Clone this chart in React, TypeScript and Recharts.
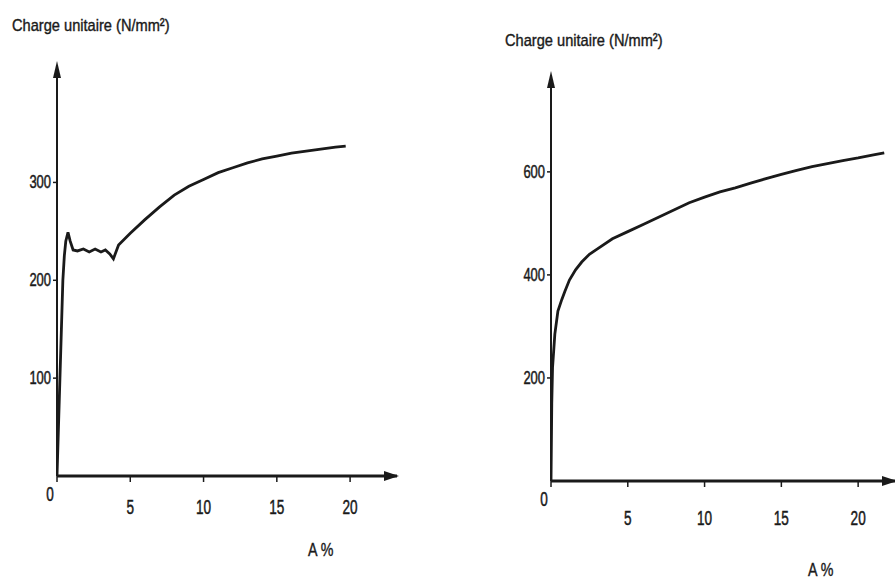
import React from 'react'
import { LineChart, Line, XAxis, YAxis, ReferenceDot } from 'recharts'

// left chart: mild steel with yield plateau
const leftStrain = [0, 0.1, 0.2, 0.3, 0.4, 0.5, 0.6, 0.75, 0.9, 1.1, 1.4, 1.8, 2.2, 2.6, 3.0, 3.3, 3.6, 3.85, 4.2, 5, 6, 7, 8, 9, 10, 11, 12, 13, 14, 15, 16, 17, 18, 19, 19.7]
const leftStress = [0, 50, 100, 150, 200, 225, 240, 249, 240, 231, 230, 232, 229, 232, 229, 231, 227, 222, 236, 248, 262, 275, 287, 296, 303, 310, 315, 320, 324, 327, 330, 332, 334, 336, 337]

// right chart: steel without plateau
const rightStrain = [0, 0.05, 0.1, 0.25, 0.45, 0.7, 0.9, 1.2, 1.6, 2, 2.5, 3, 4, 5, 6, 7, 8, 9, 10, 11, 12, 13, 14, 15, 16, 17, 18, 19, 20, 21, 21.7]
const rightStress = [0, 150, 220, 285, 330, 352, 368, 390, 410, 425, 440, 450, 470, 484, 498, 512, 526, 540, 551, 561, 569, 578, 587, 595, 603, 610, 616, 622, 627, 633, 637]

const xTicks = [0, 5, 10, 15, 20]
const leftYTicks = [100, 200, 300]
const rightYTicks = [200, 400, 600]

const titleText = 'Charge unitaire (N/mm²)'
const xLabel = 'A %'

const leftData = leftStrain.map((x, i) => ({ x, y: leftStress[i] }))
const rightData = rightStrain.map((x, i) => ({ x, y: rightStress[i] }))

const FONT = '"Liberation Sans", Arial, sans-serif'
const INK = '#1a1a1a'

// narrow, tall digits like the scanned figure
const makeXTick = (dy: number) => (props: any) => {
  const { x, y, payload } = props
  const isZero = payload.value === 0
  const tx = isZero ? x - 7 : x
  const ty = isZero ? y + 17 : y + dy
  return (
    <text
      transform={`translate(${tx},${ty}) scale(0.68,1)`}
      textAnchor="middle"
      fontFamily={FONT}
      fontSize={20}
      fill={INK}
      stroke={INK}
      strokeWidth={0.5}
    >
      {payload.value}
    </text>
  )
}

const YTick = (props: any) => {
  const { x, y, payload } = props
  return (
    <text
      transform={`translate(${x},${y + 6}) scale(0.72,1)`}
      textAnchor="end"
      fontFamily={FONT}
      fontSize={18}
      fill={INK}
      stroke={INK}
      strokeWidth={0.5}
    >
      {payload.value}
    </text>
  )
}

const UpArrow = (props: any) => {
  const { cx, cy } = props
  return <polygon points={`${cx},${cy - 4} ${cx - 4},${cy + 13} ${cx + 4},${cy + 13}`} fill={INK} />
}

const RightArrow = (props: any) => {
  const { cx, cy } = props
  return <polygon points={`${cx + 2},${cy} ${cx - 13},${cy - 5} ${cx - 13},${cy + 5}`} fill={INK} />
}

type PanelProps = {
  data: { x: number; y: number }[]
  yTicks: number[]
  xMax: number
  yMax: number
  width: number
  tickDy: number
  margin: { top: number; right: number; bottom: number; left: number }
}

function Panel({ data, yTicks, xMax, yMax, width, tickDy, margin }: PanelProps) {
  const XTick = makeXTick(tickDy)
  return (
    <LineChart width={width} height={581} data={data} margin={margin}>
      <XAxis
        type="number"
        dataKey="x"
        domain={[0, xMax]}
        ticks={xTicks}
        tick={<XTick />}
        tickSize={6}
        axisLine={{ stroke: INK, strokeWidth: 3 }}
        tickLine={{ stroke: INK, strokeWidth: 1.5 }}
        height={30}
        allowDataOverflow
      />
      <YAxis
        type="number"
        dataKey="y"
        domain={[0, yMax]}
        ticks={yTicks}
        width={57}
        tickSize={4}
        tickMargin={2}
        axisLine={{ stroke: INK, strokeWidth: 2 }}
        tickLine={{ stroke: INK, strokeWidth: 1.5 }}
        tick={<YTick />}
        allowDataOverflow
      />
      <ReferenceDot x={0} y={yMax} r={0} shape={<UpArrow />} ifOverflow="visible" />
      <ReferenceDot x={xMax} y={0} r={0} shape={<RightArrow />} ifOverflow="visible" />
      <Line
        type="linear"
        dataKey="y"
        stroke={INK}
        strokeWidth={2.8}
        dot={false}
        isAnimationActive={false}
      />
    </LineChart>
  )
}

export default function App() {
  const textStyle: React.CSSProperties = {
    position: 'absolute',
    fontFamily: FONT,
    color: INK,
    whiteSpace: 'nowrap',
    transformOrigin: 'left top',
    WebkitTextStroke: `0.4px ${INK}`,
  }
  return (
    <div style={{ position: 'absolute', left: 0, top: 0, width: 895, height: 581, background: '#fff', overflow: 'hidden' }}>
      <div style={{ position: 'absolute', left: 0, top: 0 }}>
        <Panel
          data={leftData}
          yTicks={leftYTicks}
          xMax={23.2}
          yMax={420}
          width={430}
          tickDy={30}
          margin={{ top: 65, right: 33, bottom: 75, left: 0 }}
        />
      </div>
      <div style={{ position: 'absolute', left: 494, top: 0 }}>
        <Panel
          data={rightData}
          yTicks={rightYTicks}
          xMax={22.4}
          yMax={788}
          width={401}
          tickDy={36}
          margin={{ top: 75, right: 0, bottom: 70, left: 0 }}
        />
      </div>
      <span style={{ ...textStyle, left: 12, top: 16, fontSize: 17, transform: 'scaleX(0.86)' }}>{titleText}</span>
      <span style={{ ...textStyle, left: 505, top: 31, fontSize: 17, transform: 'scaleX(0.86)' }}>{titleText}</span>
      <span style={{ ...textStyle, left: 308, top: 539, fontSize: 19, transform: 'scaleX(0.75)' }}>{xLabel}</span>
      <span style={{ ...textStyle, left: 808, top: 559, fontSize: 19, transform: 'scaleX(0.75)' }}>{xLabel}</span>
    </div>
  )
}
